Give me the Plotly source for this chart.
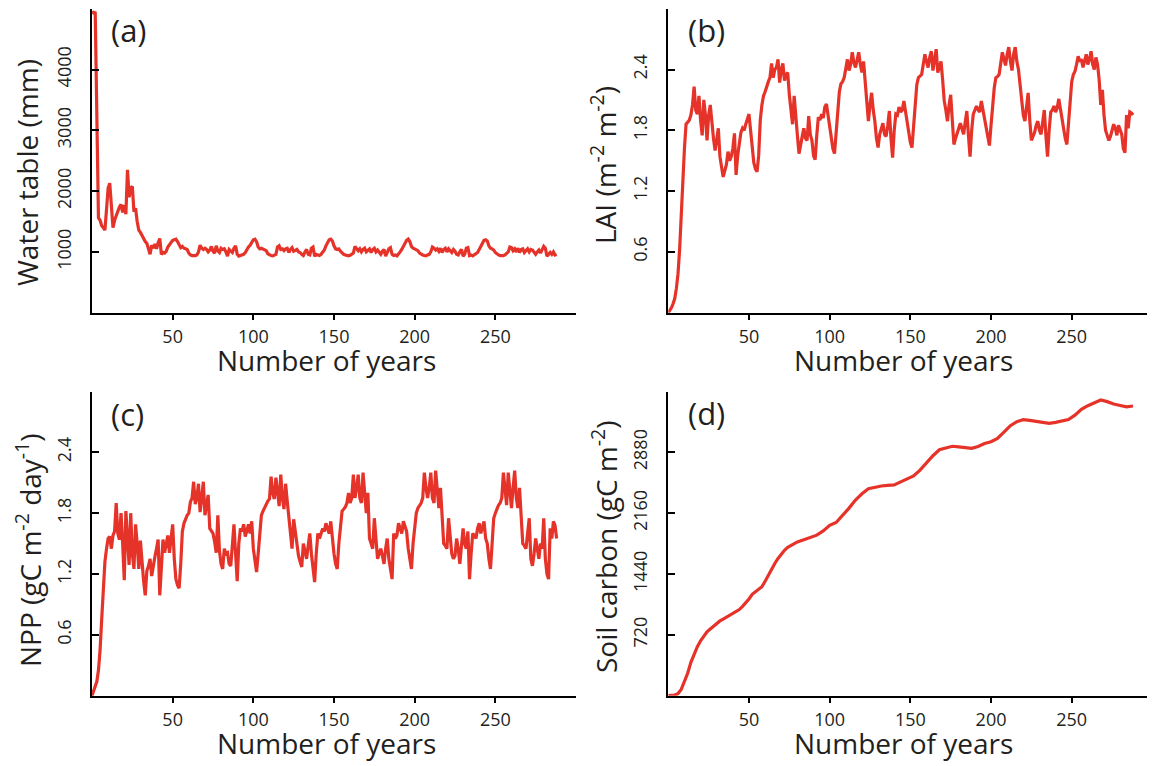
import plotly.graph_objects as go

W, H = 1155, 766
OFF = 8  # the page body adds an 8 px margin; compensate so marks land where the reference has them

# ---------------- data ----------------
years = list(range(0, 289))

water_table = [
    4920, 4940, 4930, 2900, 1560, 1520, 1430, 1400, 1360, 1700, 2050, 2130, 1700, 1400, 1520, 1600, 1700, 1740, 1780, 1650,
    1770, 1620, 2350, 1900, 2050, 2080, 1660, 1720, 1500, 1360, 1320, 1260, 1220, 1170, 1140, 1050, 960, 1110, 1060, 1130,
    1050, 1150, 1220, 960, 990, 980, 1010, 1080, 1120, 1160, 1190, 1200, 1210, 1170, 1120, 1070, 1090, 1060, 1050, 1040,
    980, 950, 940, 935, 940, 950, 1000, 1110, 1060, 1040, 1060, 1040, 1000, 1030, 1090, 1010, 980, 1100, 1020, 990,
    1060, 1040, 1050, 1000, 930, 1040, 1010, 990, 1060, 1100, 960, 930, 940, 950, 960, 990, 1040, 1080, 1110, 1160,
    1200, 1210, 1170, 1080, 1050, 1060, 1050, 1040, 1020, 970, 950, 940, 935, 950, 960, 1080, 1100, 1040, 1050, 1020,
    1050, 1060, 990, 1040, 1070, 1010, 1030, 1040, 1000, 990, 960, 940, 1000, 1040, 960, 950, 1060, 1080, 930, 960,
    950, 940, 960, 990, 1030, 1100, 1150, 1200, 1210, 1180, 1100, 1050, 1040, 1050, 1010, 980, 960, 950, 940, 935,
    945, 960, 980, 1090, 1060, 1020, 1050, 1000, 1040, 1060, 1000, 1020, 1050, 990, 1040, 1060, 1000, 1030, 990, 960,
    1010, 1040, 930, 990, 1050, 1070, 960, 940, 950, 935, 960, 1000, 1040, 1100, 1150, 1190, 1210, 1170, 1090, 1060,
    1050, 1040, 1020, 980, 960, 950, 940, 935, 950, 960, 1000, 1080, 1060, 1030, 1050, 1010, 1060, 990, 1040, 1060,
    1000, 1050, 1020, 990, 1040, 1010, 960, 950, 1000, 1040, 930, 960, 1060, 1070, 940, 950, 935, 950, 960, 990,
    1040, 1100, 1150, 1190, 1200, 1180, 1100, 1060, 1050, 1030, 990, 960, 950, 940, 935, 940, 950, 970, 1000, 1080,
    1070, 1020, 1050, 1000, 1060, 990, 1040, 1050, 990, 1020, 1050, 1000, 1040, 1030, 990, 960, 1000, 1030, 980, 1040,
    1090, 1060, 930, 960, 990, 960, 1000, 950, 960,
]

lai = [
    0.00, 0.02, 0.05, 0.09, 0.14, 0.24, 0.38, 0.62, 1.00, 1.35, 1.62, 1.86, 1.88, 1.90, 1.95, 2.05, 2.23, 2.00, 1.96, 2.14,
    1.90, 1.75, 2.10, 1.95, 1.70, 1.95, 2.05, 1.85, 1.72, 1.60, 1.70, 1.82, 1.54, 1.42, 1.34, 1.40, 1.46, 1.59, 1.50, 1.54,
    1.62, 1.77, 1.36, 1.55, 1.70, 1.78, 1.82, 1.80, 1.86, 1.92, 1.96, 1.80, 1.62, 1.48, 1.42, 1.39, 1.55, 1.90, 2.05, 2.14,
    2.18, 2.24, 2.28, 2.32, 2.46, 2.32, 2.40, 2.42, 2.50, 2.27, 2.40, 2.46, 2.29, 2.35, 2.37, 2.15, 2.00, 1.86, 2.14, 1.98,
    1.75, 1.57, 1.68, 1.74, 1.82, 1.72, 1.70, 1.94, 1.76, 1.70, 1.55, 1.51, 1.75, 1.93, 1.90, 1.96, 1.92, 2.03, 2.06, 1.95,
    1.86, 1.72, 1.62, 1.57, 1.80, 2.05, 2.18, 2.26, 2.28, 2.32, 2.40, 2.50, 2.39, 2.45, 2.57, 2.47, 2.42, 2.52, 2.57, 2.45,
    2.37, 2.48, 2.30, 2.05, 1.89, 2.05, 2.17, 2.00, 1.89, 1.72, 1.63, 1.76, 1.82, 1.87, 1.76, 1.74, 1.85, 1.99, 1.72, 1.53,
    1.80, 1.96, 1.95, 2.03, 1.98, 2.00, 2.09, 1.98, 1.89, 1.76, 1.68, 1.63, 1.85, 2.12, 2.25, 2.32, 2.34, 2.35, 2.45, 2.55,
    2.48, 2.42, 2.52, 2.58, 2.39, 2.50, 2.60, 2.37, 2.42, 2.48, 2.30, 2.09, 2.00, 1.89, 2.05, 2.15, 1.90, 1.66, 1.72, 1.76,
    1.82, 1.87, 1.80, 1.76, 1.88, 1.99, 1.75, 1.54, 1.80, 1.96, 2.00, 2.04, 2.00, 1.98, 2.09, 2.00, 1.93, 1.82, 1.72, 1.65,
    1.85, 2.09, 2.22, 2.32, 2.33, 2.35, 2.45, 2.57, 2.50, 2.44, 2.55, 2.62, 2.48, 2.39, 2.55, 2.62, 2.48, 2.40, 2.25, 2.09,
    1.95, 1.89, 2.05, 2.17, 1.90, 1.70, 1.74, 1.78, 1.85, 1.89, 1.80, 1.76, 1.88, 2.00, 1.75, 1.54, 1.80, 1.98, 2.00, 2.04,
    1.98, 2.02, 2.11, 2.00, 1.93, 1.82, 1.72, 1.66, 1.88, 2.15, 2.28, 2.35, 2.38, 2.45, 2.53, 2.48, 2.50, 2.42, 2.48, 2.55,
    2.45, 2.50, 2.58, 2.45, 2.40, 2.52, 2.45, 2.30, 2.05, 2.20, 1.95, 1.80, 1.75, 1.70, 1.74, 1.80, 1.86, 1.82, 1.75, 1.85,
    1.80, 1.76, 1.62, 1.58, 1.95, 1.82, 1.98, 1.97, 1.95,
]

npp = [
    0.00, 0.04, 0.08, 0.14, 0.25, 0.45, 0.75, 1.10, 1.32, 1.45, 1.55, 1.57, 1.45, 1.58, 1.62, 1.90, 1.60, 1.54, 1.80, 1.50,
    1.14, 1.82, 1.55, 1.29, 1.80, 1.40, 1.25, 1.69, 1.50, 1.25, 1.53, 1.30, 1.13, 0.99, 1.23, 1.28, 1.35, 1.18, 1.30, 1.37,
    1.45, 1.54, 0.99, 1.30, 1.54, 1.41, 1.50, 1.58, 1.41, 1.55, 1.69, 1.35, 1.15, 1.09, 1.06, 1.30, 1.62, 1.70, 1.75, 1.78,
    1.80, 1.91, 1.95, 2.11, 1.89, 1.95, 2.09, 1.81, 1.95, 2.11, 1.78, 1.90, 1.98, 1.65, 1.62, 1.60, 1.52, 1.41, 1.78, 1.43,
    1.30, 1.25, 1.45, 1.40, 1.41, 1.30, 1.28, 1.49, 1.69, 1.40, 1.13, 1.50, 1.65, 1.62, 1.69, 1.57, 1.62, 1.69, 1.60, 1.72,
    1.45, 1.35, 1.22, 1.40, 1.62, 1.78, 1.82, 1.86, 1.89, 1.92, 1.94, 2.16, 2.00, 1.94, 2.15, 1.98, 1.87, 2.18, 1.95, 1.84,
    2.09, 1.92, 1.74, 1.60, 1.45, 1.74, 1.60, 1.47, 1.38, 1.32, 1.27, 1.50, 1.42, 1.35, 1.48, 1.60, 1.40, 1.25, 1.12, 1.40,
    1.60, 1.55, 1.60, 1.65, 1.62, 1.70, 1.65, 1.60, 1.72, 1.55, 1.40, 1.30, 1.25, 1.50, 1.70, 1.82, 1.84, 1.86, 1.90, 2.00,
    1.90, 1.95, 2.18, 1.95, 2.05, 2.18, 1.95, 1.90, 2.20, 1.95, 1.80, 2.00, 1.55, 1.50, 1.45, 1.75, 1.55, 1.35, 1.40, 1.45,
    1.38, 1.30, 1.45, 1.55, 1.35, 1.25, 1.15, 1.60, 1.55, 1.58, 1.70, 1.65, 1.60, 1.72, 1.66, 1.62, 1.45, 1.35, 1.25, 1.50,
    1.70, 1.80, 1.85, 1.88, 1.90, 1.95, 2.20, 2.05, 1.95, 2.05, 2.20, 1.95, 1.90, 2.22, 2.00, 1.85, 2.05, 1.80, 1.50, 1.48,
    1.45, 1.75, 1.55, 1.40, 1.35, 1.38, 1.55, 1.45, 1.30, 1.50, 1.65, 1.50, 1.45, 1.62, 1.15, 1.40, 1.60, 1.58, 1.55, 1.65,
    1.70, 1.60, 1.65, 1.72, 1.55, 1.50, 1.35, 1.25, 1.50, 1.75, 1.80, 1.85, 1.88, 1.90, 1.95, 2.20, 2.00, 1.88, 2.20, 2.00,
    1.85, 2.05, 2.22, 1.95, 1.85, 2.05, 1.80, 1.50, 1.48, 1.45, 1.60, 1.75, 1.35, 1.28, 1.40, 1.55, 1.45, 1.35, 1.50, 1.45,
    1.75, 1.35, 1.20, 1.15, 1.65, 1.55, 1.72, 1.68, 1.55,
]

soil_years = [0, 2, 4, 6, 8, 10, 12, 14, 16, 18, 20, 22, 24, 26, 28, 30, 32, 34, 36, 38, 40, 42, 44, 46, 48, 50,
              52, 54, 56, 58, 60, 62, 64, 66, 68, 70, 72, 74, 76, 78, 80, 84, 88, 92, 96, 100, 104, 108, 112,
              116, 120, 124, 128, 132, 136, 140, 144, 148, 152, 156, 160, 164, 168, 172, 176, 180, 184, 188,
              192, 196, 200, 204, 208, 212, 216, 220, 224, 228, 232, 236, 240, 244, 248, 252, 256, 260, 264,
              268, 272, 276, 280, 284, 288]
soil_carbon = [0, 2, 8, 25, 75, 170, 266, 395, 500, 580, 650, 710, 755, 790, 823, 852, 885, 907, 928, 948, 970,
               995, 1020, 1058, 1100, 1145, 1200, 1230, 1250, 1290, 1355, 1430, 1500, 1565, 1625, 1675, 1720,
               1755, 1780, 1805, 1820, 1846, 1872, 1900, 1950, 2017, 2050, 2130, 2220, 2315, 2390, 2450, 2470,
               2482, 2488, 2494, 2530, 2565, 2600, 2670, 2760, 2840, 2910, 2935, 2952, 2945, 2938, 2928, 2950,
               2985, 3005, 3045, 3120, 3195, 3242, 3268, 3258, 3245, 3232, 3222, 3235, 3255, 3268, 3320, 3390,
               3432, 3470, 3500, 3480, 3452, 3435, 3418, 3428]

x_ticks = [50, 100, 150, 200, 250]
yt_water = [1000, 2000, 3000, 4000]
yt_frac = [0.6, 1.2, 1.8, 2.4]
yt_soil = [720, 1440, 2160, 2880]

panel_labels = ["(a)", "(b)", "(c)", "(d)"]
y_titles = ["Water table (mm)",
            "LAI (m<sup>-2</sup> m<sup>-2</sup>)",
            "NPP (gC m<sup>-2</sup> day<sup>-1</sup>)",
            "Soil carbon (gC m<sup>-2</sup>)"]
x_title = "Number of years"

# ---------------- layout helpers (target pixel geometry on the page) ----------------
def px_x(p):
    return (p - OFF) / W

def px_y(p):
    return 1 - (p - OFF) / H

RED = "#E6332A"
FONT = "Open Sans"
INK = "#231F20"

left_dom = [px_x(92), px_x(576)]
right_dom = [px_x(668.3), px_x(1152.4)]
top_dom = [px_y(312.7), px_y(8.7)]
bot_dom = [px_y(695.7), px_y(391.5)]

fig = go.Figure()
line = dict(color=RED, width=3.2)
fig.add_trace(go.Scatter(x=years, y=water_table, mode="lines", line=line, xaxis="x", yaxis="y"))
fig.add_trace(go.Scatter(x=years, y=lai, mode="lines", line=line, xaxis="x2", yaxis="y2"))
fig.add_trace(go.Scatter(x=years, y=npp, mode="lines", line=line, xaxis="x3", yaxis="y3"))
fig.add_trace(go.Scatter(x=soil_years, y=soil_carbon, mode="lines", line=line, xaxis="x4", yaxis="y4"))

def xaxis(dom, anchor):
    return dict(domain=dom, anchor=anchor, range=[0, 300], showline=True, linewidth=2, linecolor="black",
                ticks="outside", ticklen=5, tickwidth=2, tickcolor="black", tickvals=x_ticks,
                showgrid=False, zeroline=False, tickfont=dict(family=FONT, size=18, color=INK),
                ticklabelstandoff=2)

def yaxis(dom, anchor, rng, tv, fmt):
    return dict(domain=dom, anchor=anchor, range=rng, showline=True, linewidth=2, linecolor="black",
                ticks="inside", ticklen=7, tickwidth=2, tickcolor="black", tickvals=tv, tickformat=fmt,
                tickangle=-90, showgrid=False, zeroline=False,
                tickfont=dict(family=FONT, size=18, color=INK), ticklabelstandoff=12)

fig.update_layout(
    width=W, height=H, margin=dict(l=0, r=0, t=0, b=0),
    paper_bgcolor="white", plot_bgcolor="white", showlegend=False,
    xaxis=xaxis(left_dom, "y"), yaxis=yaxis(top_dom, "x", [0, 5000], yt_water, "d"),
    xaxis2=xaxis(right_dom, "y2"), yaxis2=yaxis(top_dom, "x2", [0, 3.0], yt_frac, ".1f"),
    xaxis3=xaxis(left_dom, "y3"), yaxis3=yaxis(bot_dom, "x3", [0, 3.0], yt_frac, ".1f"),
    xaxis4=xaxis(right_dom, "y4"), yaxis4=yaxis(bot_dom, "x4", [0, 3600], yt_soil, "d"),
)

ann = []
label_pos = [(109, 30), (686, 30), (109, 414), (686, 413)]
for txt, (lx, ly) in zip(panel_labels, label_pos):
    ann.append(dict(text=txt, x=px_x(lx), y=px_y(ly), xref="paper", yref="paper", xanchor="left",
                    yanchor="middle", showarrow=False, font=dict(family=FONT, size=31, color=INK)))
ytitle_pos = [(27, 173), (604, 165), (28, 550), (604, 547)]
for txt, (tx, ty) in zip(y_titles, ytitle_pos):
    ann.append(dict(text=txt, x=px_x(tx), y=px_y(ty), xref="paper", yref="paper", xanchor="center",
                    yanchor="middle", textangle=-90, showarrow=False, font=dict(family=FONT, size=28, color=INK)))
xtitle_pos = [(326, 360), (903, 360), (326, 743), (903, 743)]
for tx, ty in xtitle_pos:
    ann.append(dict(text=x_title, x=px_x(tx), y=px_y(ty), xref="paper", yref="paper", xanchor="center",
                    yanchor="middle", showarrow=False, font=dict(family=FONT, size=28, color=INK)))
fig.update_layout(annotations=ann)

fig.write_html("out.html")
